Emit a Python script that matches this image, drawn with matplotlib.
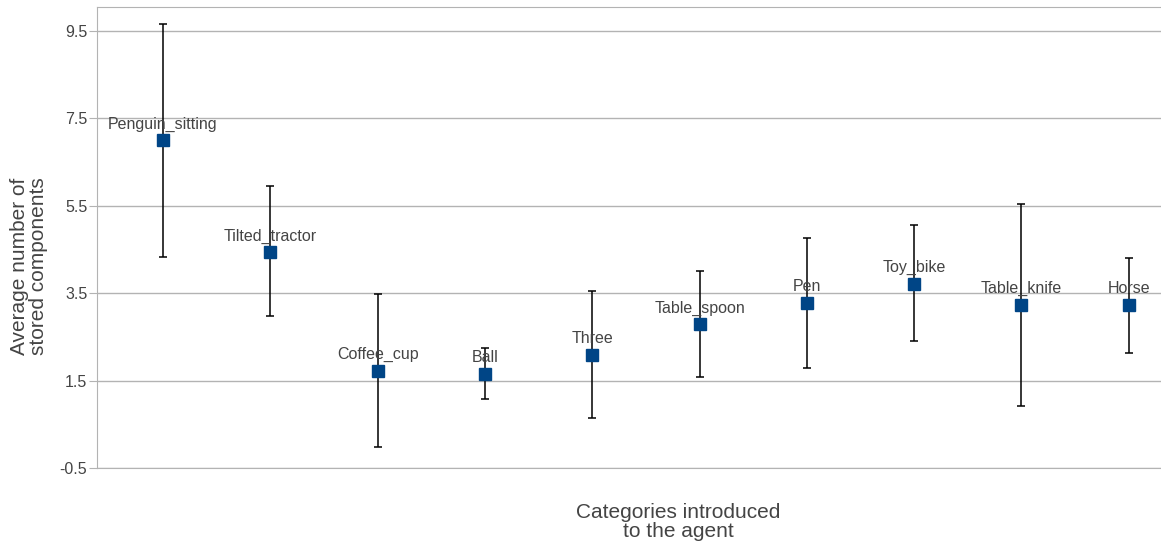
import matplotlib.pyplot as plt

categories = ['Penguin_sitting', 'Tilted_tractor', 'Coffee_cup', 'Ball', 'Three',
              'Table_spoon', 'Pen', 'Toy_bike', 'Table_knife', 'Horse']
means = [7.0, 4.44, 1.72, 1.65, 2.09, 2.79, 3.28, 3.71, 3.23, 3.23]
upper = [9.66, 5.95, 3.48, 2.24, 3.55, 4.0, 4.76, 5.05, 5.53, 4.31]
lower = [4.33, 2.98, -0.03, 1.08, 0.64, 1.59, 1.79, 2.40, 0.92, 2.13]
yticks = [-0.5, 1.5, 3.5, 5.5, 7.5, 9.5]

plt.rcParams['font.family'] = ['Liberation Sans', 'DejaVu Sans']

fig = plt.figure(figsize=(11.61, 5.45), dpi=100)
ax = fig.add_axes([97 / 1161, 1 - 468 / 545, 1 - 97 / 1161, 461 / 545])

x = list(range(len(categories)))
err_lo = [m - l for m, l in zip(means, lower)]
err_hi = [u - m for m, u in zip(means, upper)]

ax.errorbar(x, means, yerr=[err_lo, err_hi], fmt='none', ecolor='black',
            elinewidth=1.1, capsize=3, capthick=1.1, zorder=3)
ax.plot(x, means, 's', color='#004586', markersize=9, linestyle='none', zorder=4)

for xi, m, name in zip(x, means, categories):
    ax.annotate(name, (xi, m), xytext=(0, 11.5), textcoords='offset points',
                ha='center', va='center', fontsize=11.5, color='#444444', zorder=5)

ax.set_xlim(-0.615, 9.3)
ax.set_ylim(-0.5, 10.04)
ax.set_xticks([])
ax.set_yticks(yticks)
ax.set_yticklabels([str(t) for t in yticks])
ax.tick_params(axis='y', length=6, color='#b3b3b3', labelsize=11.5,
               labelcolor='#444444', pad=1)

ax.grid(axis='y', color='#b3b3b3', linewidth=1)
ax.set_axisbelow(True)
for s in ['left', 'top', 'bottom']:
    ax.spines[s].set_color('#b3b3b3')
ax.spines['right'].set_visible(False)

fig.text(29 / 1161, 1 - 266 / 545, 'Average number of\nstored components',
         rotation=90, ha='center', va='center', fontsize=15, color='#444444',
         linespacing=1.05)
fig.text(678 / 1161, 1 - 522 / 545, 'Categories introduced\nto the agent',
         ha='center', va='center', fontsize=15, color='#444444', linespacing=1.05)

fig.savefig('out.png', dpi=100)
